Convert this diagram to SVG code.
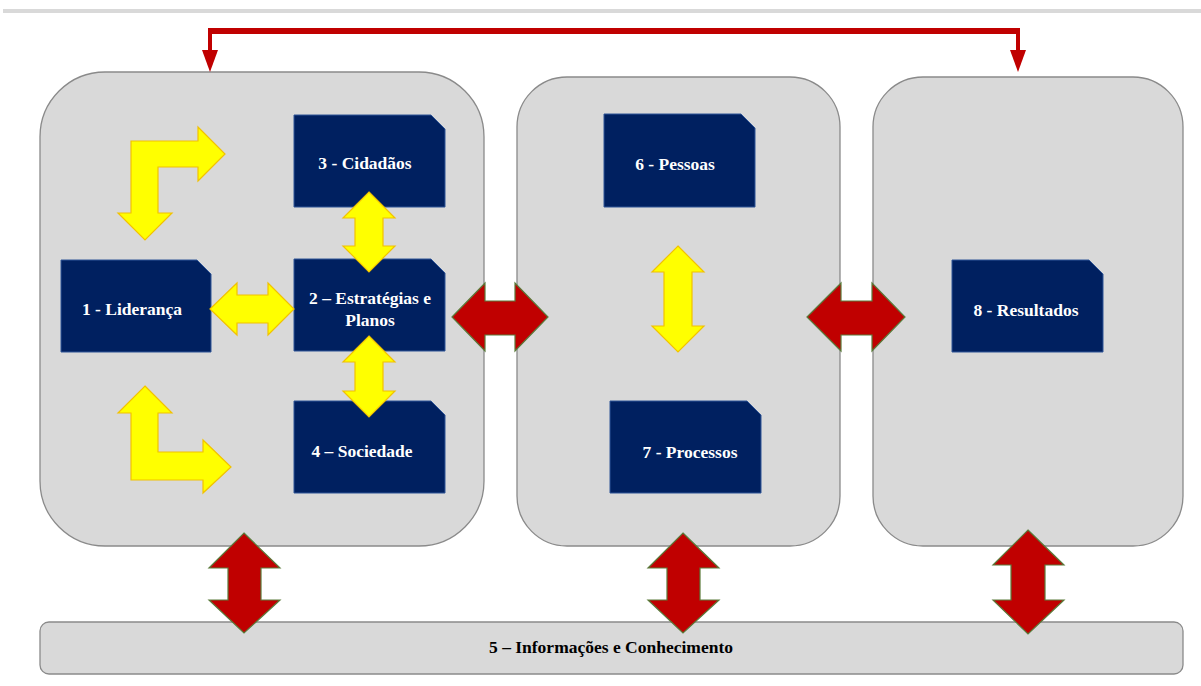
<svg xmlns="http://www.w3.org/2000/svg" width="1201" height="686" viewBox="0 0 1201 686">
<style>
.panel{fill:#d9d9d9;stroke:#8a8a8a;stroke-width:1.3}
.box{fill:#002060;stroke:#2f5597;stroke-width:1}
.lbl{font-family:"Liberation Serif","Times New Roman",serif;font-weight:bold;font-size:17.5px;fill:#ffffff;text-anchor:middle}
.lbl5{font-family:"Liberation Serif","Times New Roman",serif;font-weight:bold;font-size:17.5px;fill:#000000;text-anchor:middle}
.ya{fill:#ffff00;stroke:#f2c200;stroke-width:1.2;stroke-linejoin:miter}
.ra{fill:#c00000;stroke:#5a7a3a;stroke-width:1.2}
.rl{stroke:#c00000;fill:none}
.rh{fill:#c00000}
</style>
<rect x="0" y="0" width="1201" height="686" fill="#ffffff"/>
<rect x="3" y="9" width="1198" height="4" fill="#d9d9d9"/>

<g id="panel-left"><rect class="panel" x="40" y="72" width="444" height="474" rx="65" ry="65"/></g>
<g id="panel-mid"><rect class="panel" x="517" y="77" width="323" height="469" rx="50" ry="50"/></g>
<g id="panel-right"><rect class="panel" x="873" y="77" width="310" height="469" rx="50" ry="50"/></g>

<g id="node-5">
<rect class="panel" x="40" y="622" width="1143" height="52" rx="9" ry="9"/>
<text class="lbl5" x="611" y="653">5 – Informações e Conhecimento</text>
</g>

<g id="node-1">
<path class="box" d="M61,260 H197 L211,274 V352 H61 Z"/>
<text class="lbl" x="132" y="315">1 - Liderança</text>
</g>
<g id="node-3">
<path class="box" d="M294,115 H431 L445,129 V207 H294 Z"/>
<text class="lbl" x="365" y="169">3 - Cidadãos</text>
</g>
<g id="node-2">
<path class="box" d="M294,259 H431 L445,273 V351 H294 Z"/>
<text class="lbl" x="370" y="304">2 – Estratégias e</text>
<text class="lbl" x="370" y="326">Planos</text>
</g>
<g id="node-4">
<path class="box" d="M294,401 H431 L445,415 V493 H294 Z"/>
<text class="lbl" x="362" y="457">4 – Sociedade</text>
</g>
<g id="node-6">
<path class="box" d="M604,114 H741 L755,128 V207 H604 Z"/>
<text class="lbl" x="675" y="170">6 - Pessoas</text>
</g>
<g id="node-7">
<path class="box" d="M610,401 H747 L761,415 V493 H610 Z"/>
<text class="lbl" x="690" y="458">7 - Processos</text>
</g>
<g id="node-8">
<path class="box" d="M952,260 H1089 L1103,274 V352 H952 Z"/>
<text class="lbl" x="1026" y="316">8 - Resultados</text>
</g>

<g id="connectors">
<path class="rl" stroke-width="6" d="M210,31 H1018"/>
<path class="rl" stroke-width="4" d="M210,28 V52 M1018,28 V52"/>
<polygon class="rh" points="202,50 218,50 210,72"/>
<polygon class="rh" points="1010,50 1026,50 1018,72"/>

<polygon class="ya" points="131,141 198,141 198,127 225,154 198,181 198,167 158,167 158,213 172,213 145,240 118,213 131,213"/>
<polygon class="ya" points="145,386 172,413 158,413 158,452 203,452 203,440 231,467 203,493 203,480 131,480 131,413 118,413"/>

<polygon class="ya" points="210,309 237,283 237,295 268,295 268,283 294,309 268,335 268,323 237,323 237,335"/>
<polygon class="ya" points="369,192 395,218 383,218 383,246 395,246 369,272 343,246 355,246 355,218 343,218"/>
<polygon class="ya" points="369,336 395,362 383,362 383,391 395,391 369,417 343,391 355,391 355,362 343,362"/>
<polygon class="ya" points="678,246 704,272 692,272 692,326 704,326 678,352 652,326 664,326 664,272 652,272"/>

<polygon class="ra" points="452,317 485,283 485,301 515,301 515,283 548,317 515,351 515,335 485,335 485,351"/>
<polygon class="ra" points="807,317 841,283 841,301 872,301 872,283 905,317 872,351 872,335 841,335 841,351"/>

<polygon class="ra" points="244,533 280,568 261,568 261,600 280,600 244,633 209,600 228,600 228,568 209,568"/>
<polygon class="ra" points="683,533 719,568 700,568 700,600 719,600 683,633 648,600 667,600 667,568 648,568"/>
<polygon class="ra" points="1028,530 1064,565 1045,565 1045,600 1064,600 1028,634 993,600 1011,600 1011,565 993,565"/>
</g>
</svg>
